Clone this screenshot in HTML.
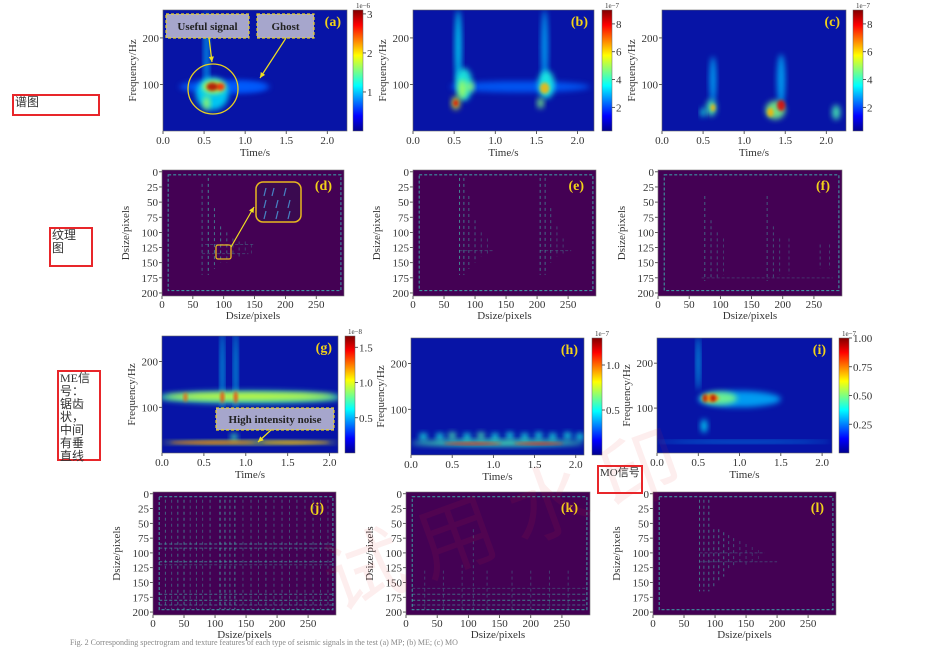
<!DOCTYPE html>
<html><head><meta charset="utf-8">
<style>
html,body{margin:0;padding:0;background:#fff;width:948px;height:650px;overflow:hidden;}
svg{display:block;font-family:"Liberation Serif","Noto Serif CJK SC",serif;}
.lbl{position:absolute;border:2px solid #e8262a;font-family:"Liberation Serif","Noto Sans CJK SC",serif;font-size:12px;line-height:13px;color:#333;box-sizing:border-box;padding:0 0 0 1px;white-space:nowrap;}
</style></head>
<body>
<div style="position:relative;width:948px;height:650px;overflow:hidden">
<svg id="fig" width="948" height="650" viewBox="0 0 948 650">
<defs>
<filter id="b1" x="-50%" y="-50%" width="200%" height="200%"><feGaussianBlur stdDeviation="1.5"/></filter>
<filter id="b2" x="-50%" y="-50%" width="200%" height="200%"><feGaussianBlur stdDeviation="3"/></filter>
<linearGradient id="jet" x1="0" y1="1" x2="0" y2="0">
<stop offset="0" stop-color="#00008f"/><stop offset="0.125" stop-color="#0000ff"/><stop offset="0.375" stop-color="#00ffff"/><stop offset="0.625" stop-color="#ffff00"/><stop offset="0.875" stop-color="#ff0000"/><stop offset="1" stop-color="#800000"/>
</linearGradient>
<clipPath id="frameclip"><rect x="0" y="0" width="948" height="650"/></clipPath>
</defs>
</svg>
<div class="lbl" style="left:12px;top:94px;width:88px;height:22px">谱图</div>
<div class="lbl" style="left:49px;top:227px;width:44px;height:40px">纹理<br>图</div>
<div class="lbl" style="left:57px;top:370px;width:44px;height:91px">ME信<br>号：<br>锯齿<br>状，<br>中间<br>有垂<br>直线</div>
<div class="lbl" style="left:597px;top:465px;width:46px;height:29px;font-size:11px">MO信号</div>
</div>
<script>
// ---- data: spectrogram blobs [time, freq, dt, df, intensity]
const blobsA=[[0.75,95,0.55,14,0.22],[0.53,160,0.03,100,0.3],[0.6,80,0.2,35,0.35],[0.62,95,0.14,14,0.6],[0.6,95,0.07,9,0.95],[0.7,95,0.05,8,0.85],[0.53,60,0.04,15,0.55],[1.0,95,0.25,10,0.2]];
const blobsB=[[1.3,95,0.85,12,0.22],[0.55,180,0.04,80,0.35],[0.62,100,0.1,35,0.4],[0.52,60,0.05,14,0.6],[0.52,60,0.03,7,0.9],[0.6,90,0.05,20,0.55],[1.6,180,0.04,80,0.3],[1.62,100,0.1,30,0.4],[1.55,60,0.04,12,0.5],[1.6,92,0.06,12,0.7],[0.7,95,0.04,10,0.55]];
const blobsC=[[0.62,110,0.04,50,0.3],[0.6,50,0.06,18,0.45],[0.62,50,0.03,8,0.7],[1.45,110,0.05,55,0.3],[1.38,45,0.12,20,0.5],[1.45,55,0.05,12,0.9],[1.32,40,0.04,10,0.7],[2.12,40,0.05,16,0.45],[0.5,40,0.03,10,0.4]];
const blobsG=[[1.05,122,1.1,14,0.45],[1.05,124,1.0,7,0.6],[0.72,180,0.02,90,0.35],[0.88,180,0.02,90,0.35],[0.72,122,0.02,14,0.85],[0.88,122,0.02,14,0.85],[0.28,122,0.02,10,0.8],[1.05,23,1.05,4,0.6],[0.6,23,0.5,2,0.75],[1.6,23,0.4,2,0.7],[0.86,35,0.04,8,0.45]];
const blobsH=[[1.05,26,1.05,7,0.45],[0.75,25,0.35,2,0.85],[1.55,25,0.3,2,0.85],[0.15,40,0.05,8,0.4],[0.35,40,0.05,8,0.4],[0.5,42,0.05,8,0.45],[0.68,40,0.05,8,0.4],[0.85,42,0.05,8,0.45],[1.02,40,0.05,8,0.4],[1.2,42,0.05,8,0.4],[1.38,40,0.05,8,0.4],[1.55,42,0.05,8,0.4],[1.72,40,0.05,8,0.4],[1.9,42,0.05,8,0.4],[2.05,40,0.05,8,0.4]];
const blobsI=[[1.0,120,0.5,18,0.3],[0.75,122,0.22,14,0.5],[0.65,122,0.1,9,0.75],[0.58,122,0.02,10,0.95],[0.68,122,0.03,8,0.95],[0.5,200,0.02,60,0.35],[0.57,60,0.04,15,0.35],[1.05,25,1.05,2,0.3]];
// ---- data: texture columns [x, yStart, yEnd, opacity]; rows [y, xStart, xEnd, opacity]
const colsD=[[65,20,170,0.5],[75,10,170,0.7],[85,60,160,0.6],[95,90,150,0.6],[105,100,150,0.5],[115,110,140,0.4],[125,115,140,0.35],[135,115,135,0.3],[145,120,135,0.25]];
const rowsD=[[120,70,150,0.3],[135,65,140,0.3]];
const colsE=[[75,10,170,0.7],[82,10,170,0.6],[90,40,160,0.5],[100,80,150,0.45],[110,100,140,0.35],[120,110,135,0.3],[205,10,170,0.6],[213,10,170,0.55],[222,60,150,0.45],[232,90,140,0.35],[242,110,135,0.3]];
const rowsE=[[130,75,130,0.3],[130,205,255,0.3]];
const colsF=[[75,40,180,0.5],[85,80,175,0.45],[95,100,175,0.4],[105,110,170,0.3],[175,40,180,0.45],[185,90,175,0.4],[195,110,170,0.35],[210,110,170,0.3],[260,120,160,0.35],[275,120,160,0.3]];
const rowsF=[[175,70,280,0.25]];
const colsJ=[[20,10,195,0.5],[30,10,195,0.4],[40,10,195,0.55],[50,10,195,0.6],[60,10,195,0.4],[70,10,195,0.45],[80,10,195,0.4],[92,10,195,0.5],[108,10,195,0.8],[116,10,195,0.7],[124,10,195,0.6],[132,10,195,0.7],[145,10,195,0.4],[158,10,195,0.45],[170,10,195,0.4],[182,10,195,0.5],[195,10,195,0.4],[208,10,195,0.45],[220,10,195,0.4],[232,10,195,0.45],[245,10,195,0.4],[258,10,195,0.45],[270,10,195,0.4],[282,10,195,0.4]];
const rowsJ=[[85,10,290,0.6],[92,10,290,0.5],[115,10,290,0.6],[120,10,290,0.35],[170,10,290,0.6],[180,10,290,0.7],[188,10,290,0.5]];
const colsK=[[30,130,195,0.3],[60,130,195,0.3],[90,120,195,0.3],[108,60,195,0.35],[130,130,195,0.3],[170,130,195,0.3],[200,130,195,0.3],[230,130,195,0.3],[260,130,195,0.3]];
const rowsK=[[160,10,290,0.3],[170,10,290,0.5],[180,10,290,0.65],[188,10,290,0.5]];
const colsL=[[75,10,165,0.6],[82,10,165,0.55],[90,10,165,0.6],[98,60,160,0.55],[106,60,150,0.6],[114,65,140,0.55],[122,70,130,0.45],[130,75,125,0.4],[140,80,120,0.35],[150,85,120,0.3],[160,90,115,0.25],[170,95,115,0.2]];
const rowsL=[[115,75,200,0.3],[100,75,180,0.3]];
// ---- tick labels
const timeTicks=[0,0.5,1.0,1.5,2.0];
const freqTicks=[100,200];
const pixTicksX=[0,50,100,150,200,250];
const pixTicksY=[0,25,50,75,100,125,150,175,200];
const cbTicksA=[1,2,3], cbTicksB=[2,4,6,8], cbTicksG=[0.5,1.0,1.5], cbTicksH=[0.5,1.0], cbTicksI=[0.25,0.5,0.75,1.0];

const NS='http://www.w3.org/2000/svg';
const svg=document.getElementById('fig');
const root=(()=>{const g=document.createElementNS(NS,'g');g.setAttribute('clip-path','url(#frameclip)');svg.appendChild(g);return g;})();
function el(tag,attrs,parent){const e=document.createElementNS(NS,tag);for(const k in attrs)e.setAttribute(k,attrs[k]);(parent||root).appendChild(e);return e;}
function jet(v){v=Math.max(0,Math.min(1,v));const r=Math.min(4*v-1.5,-4*v+4.5),g=Math.min(4*v-0.5,-4*v+3.5),b=Math.min(4*v+0.5,-4*v+2.5);const c=x=>Math.round(255*Math.max(0,Math.min(1,x)));return `rgb(${c(r)},${c(g)},${c(b)})`;}
function txt(x,y,s,o,parent){const t=el('text',Object.assign({x:x,y:y,'font-size':11,fill:'#333'},o||{}),parent);t.textContent=s;return t;}

function axes(p,g,xt,yt,xfmt,yfmt,xTitle,yTitle){
  const X=v=>p.x0+(v-p.xmin)/(p.xmax-p.xmin)*(p.x1-p.x0);
  const Y=p.inv?(v=>p.y0+(v-p.ymin)/(p.ymax-p.ymin)*(p.y1-p.y0)):(v=>p.y1-(v-p.ymin)/(p.ymax-p.ymin)*(p.y1-p.y0));
  const tOff=p.inv?12:13, tiOff=p.inv?23:25;
  xt.forEach(v=>{el('line',{x1:X(v),x2:X(v),y1:p.y1,y2:p.y1+3,stroke:'#333','stroke-width':0.8},g);const t=txt(X(v),p.y1+tOff,xfmt(v),{'text-anchor':'middle'},g);});
  yt.forEach(v=>{el('line',{x1:p.x0-3,x2:p.x0,y1:Y(v),y2:Y(v),stroke:'#333','stroke-width':0.8},g);const t=txt(p.x0-4,Y(v)+4,yfmt(v),{'text-anchor':'end'},g);});
  const xtT=txt((p.x0+p.x1)/2,p.y1+tiOff,xTitle,{'text-anchor':'middle'},g);
  
  const cx=p.x0-(yTitle[0]=='F'?27:33),cy=(p.y0+p.y1)/2;
  const ytT=txt(cx,cy,yTitle,{'text-anchor':'middle',transform:`rotate(-90 ${cx} ${cy})`},g);
  
  return [X,Y];
}
function panelLetter(g,x,y,s){const t=txt(x,y,s,{'font-size':14,'font-weight':'bold',fill:'#f2d21a','text-anchor':'end'},g);}

function spec(name,p,blobs,letter,cb,cbTicks,cbMax,cbMin,exp,fmt){
  const g=el('g',{});
  const clipId='c'+name;const cp=el('clipPath',{id:clipId},g);el('rect',{x:p.x0,y:p.y0,width:p.x1-p.x0,height:p.y1-p.y0},cp);
  const bg=el('rect',{x:p.x0,y:p.y0,width:p.x1-p.x0,height:p.y1-p.y0,fill:'#0714a6'},g);
  
  const [X,Y]=axes(p,g,timeTicks.filter(v=>v<=p.xmax),freqTicks,v=>v.toFixed(1),v=>String(v),'Time/s','Frequency/Hz');
  const inner=el('g',{'clip-path':`url(#${clipId})`},g);
  const sx=(p.x1-p.x0)/(p.xmax-p.xmin),sy=(p.y1-p.y0)/(p.ymax-p.ymin);
  blobs.slice().sort((a,b)=>a[4]-b[4]).forEach(b=>{
    const e=el('ellipse',{cx:X(b[0]),cy:Y(b[1]),rx:Math.max(1.2,b[2]*sx),ry:Math.max(1.2,b[3]*sy),fill:jet(b[4]),filter:b[4]>0.6?'url(#b1)':'url(#b2)',opacity:0.85},inner);
    
  });
  el('rect',{x:p.x0,y:p.y0,width:p.x1-p.x0,height:p.y1-p.y0,fill:'none',stroke:'#666','stroke-width':0.6},g);
  panelLetter(g,p.x1-6,p.y0+16,letter);
  const cbg=el('g',{},g);
  el('rect',{x:cb,y:p.y0,width:10,height:p.y1-p.y0,fill:'url(#jet)',stroke:'#666','stroke-width':0.5},cbg);
  const CY=v=>p.y1-(v-cbMin)/(cbMax-cbMin)*(p.y1-p.y0);
  cbTicks.forEach(v=>{el('line',{x1:cb+10,x2:cb+13,y1:CY(v),y2:CY(v),stroke:'#333','stroke-width':0.8},cbg);const t=txt(cb+14,CY(v)+4,fmt(v),{},cbg);});
  const e=txt(cb+10,p.y0-2,exp,{'font-size':7,'text-anchor':'middle'},cbg);
  return [X,Y,g];
}
function tex(name,p,cols,rows,letter){
  const g=el('g',{});
  const bg=el('rect',{x:p.x0,y:p.y0,width:p.x1-p.x0,height:p.y1-p.y0,fill:'#440154'},g);
  
  const [X,Y]=axes(p,g,pixTicksX,pixTicksY,v=>String(v),v=>String(v),'Dsize/pixels','Dsize/pixels');
  const b=el('rect',{x:X(10),y:Y(5),width:X(290)-X(10),height:Y(196)-Y(5),fill:'none',stroke:'#3cb8b0','stroke-width':1.1,'stroke-dasharray':'3 2',opacity:0.8},g);
  
  cols.forEach(c=>{const l=el('line',{x1:X(c[0]),x2:X(c[0]),y1:Y(c[1]),y2:Y(c[2]),stroke:'#43c0b0','stroke-width':1,'stroke-dasharray':'3 3',opacity:c[3]},g);});
  rows.forEach(r=>{const l=el('line',{x1:X(r[1]),x2:X(r[2]),y1:Y(r[0]),y2:Y(r[0]),stroke:'#43c0b0','stroke-width':1,'stroke-dasharray':'3 2',opacity:r[3]},g);});
  el('rect',{x:p.x0,y:p.y0,width:p.x1-p.x0,height:p.y1-p.y0,fill:'none',stroke:'#777','stroke-width':0.6},g);
  panelLetter(g,p.x1-12,p.y0+20,letter);
  return [X,Y,g];
}
const sFmt=v=>String(v), s1=v=>v.toFixed(1), s2=v=>v.toFixed(2);
spec('panel-a',{x0:163,x1:347,y0:10,y1:131,xmin:0,xmax:2.24,ymin:0,ymax:260},blobsA,'(a)',353,cbTicksA,3.1,0,'1e−6',sFmt);
spec('panel-b',{x0:413,x1:594,y0:10,y1:131,xmin:0,xmax:2.2,ymin:0,ymax:260},blobsB,'(b)',602,cbTicksB,9,0.3,'1e−7',sFmt);
spec('panel-c',{x0:662,x1:846,y0:10,y1:131,xmin:0,xmax:2.24,ymin:0,ymax:260},blobsC,'(c)',853,cbTicksB,9,0.3,'1e−7',sFmt);
tex('panel-d',{x0:162,x1:344,y0:170,y1:296,xmin:0,xmax:295,ymin:-3,ymax:205,inv:true},colsD,rowsD,'(d)');
tex('panel-e',{x0:413,x1:596,y0:170,y1:296,xmin:0,xmax:295,ymin:-3,ymax:205,inv:true},colsE,rowsE,'(e)');
tex('panel-f',{x0:658,x1:842,y0:170,y1:296,xmin:0,xmax:295,ymin:-3,ymax:205,inv:true},colsF,rowsF,'(f)');
spec('panel-g',{x0:162,x1:338,y0:336,y1:453,xmin:0,xmax:2.1,ymin:0,ymax:256},blobsG,'(g)',345,cbTicksG,1.66,0,'1e−8',s1);
spec('panel-h',{x0:411,x1:584,y0:338,y1:455,xmin:0,xmax:2.1,ymin:0,ymax:256},blobsH,'(h)',592,cbTicksH,1.3,0,'1e−7',s1);
spec('panel-i',{x0:657,x1:832,y0:338,y1:453,xmin:0,xmax:2.12,ymin:0,ymax:256},blobsI,'(i)',839,cbTicksI,1.0,0,'1e−7',s2);
tex('panel-j',{x0:153,x1:336,y0:492,y1:615,xmin:0,xmax:295,ymin:-3,ymax:205,inv:true},colsJ,rowsJ,'(j)');
tex('panel-k',{x0:406,x1:590,y0:492,y1:615,xmin:0,xmax:295,ymin:-3,ymax:205,inv:true},colsK,rowsK,'(k)');
tex('panel-l',{x0:653,x1:836,y0:492,y1:615,xmin:0,xmax:295,ymin:-3,ymax:205,inv:true},colsL,rowsL,'(l)');

function annBox(x,y,w,h,s,name,fs){const g=el('g',{});
  el('rect',{x:x,y:y,width:w,height:h,fill:'#a6a6cc',stroke:'#e8d020','stroke-width':1.2,'stroke-dasharray':'3 2'},g);
  txt(x+w/2,y+h/2+4,s,{'text-anchor':'middle','font-weight':'bold','font-size':fs||11,fill:'#222'},g);return g;}
annBox(166,14,83,24,'Useful signal','useful-signal-callout');
annBox(257,14,57,24,'Ghost','ghost-callout');
const circ=el('circle',{cx:213,cy:89,r:25,fill:'none',stroke:'#e8d020','stroke-width':1.3});

function arrow(x1,y1,x2,y2,name){const g=el('g',{});
  el('line',{x1:x1,y1:y1,x2:x2,y2:y2,stroke:'#f0e020','stroke-width':1.2},g);
  const a=Math.atan2(y2-y1,x2-x1),L=6;
  el('polygon',{points:`${x2},${y2} ${x2-L*Math.cos(a-0.45)},${y2-L*Math.sin(a-0.45)} ${x2-L*Math.cos(a+0.45)},${y2-L*Math.sin(a+0.45)}`,fill:'#f0e020'},g);}
arrow(209,38,212,62,'useful-signal-arrow');
arrow(286,38,260,78,'ghost-arrow');
annBox(216,408,118,22,'High intensity noise','noise-callout');
arrow(271,430,258,442,'noise-arrow');
const zb=el('rect',{x:216,y:245,width:15,height:14,fill:'none',stroke:'#e8b820','stroke-width':1.3,rx:2});
const zt=el('rect',{x:256,y:182,width:45,height:40,fill:'#3a0a50',stroke:'#e8b820','stroke-width':1.5,rx:7});
[[264,188],[272,188],[284,188],[264,200],[276,200],[288,200],[264,211],[276,211],[288,211]].forEach(q=>{const l=el('line',{x1:q[0]+2,y1:q[1],x2:q[0],y2:q[1]+8,stroke:'#4aa0e0','stroke-width':1.2,opacity:0.8});});
arrow(231,247,254,207,'zoom-arrow');
// watermark (faint, kept inside frame)
const wm=txt(330,545,'试 用 水 印',{'font-size':80,fill:'#e83030',opacity:0.08,transform:'rotate(-20 520 560)','font-family':'"Noto Sans CJK SC",sans-serif'});

const cap=txt(70,645,'Fig. 2  Corresponding spectrogram and texture features of each type of seismic signals in the test (a) MP; (b) ME; (c) MO',{'font-size':8,fill:'#888'});

</script>
</body></html>
